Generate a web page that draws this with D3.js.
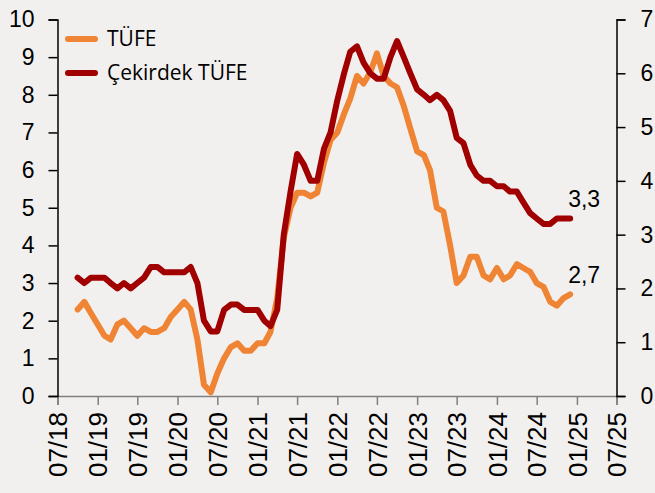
<!DOCTYPE html>
<html>
<head>
<meta charset="utf-8">
<script src="https://cdn.jsdelivr.net/npm/d3@7"></script>
<style>
  html, body { margin: 0; padding: 0; background: #f2f0ef; }
  svg { display: block; }
</style>
</head>
<body>
<svg id="chart" width="655" height="493"></svg>
<script>
// ---- data (monthly, Sep 2018 .. Nov 2024) ----
const startMonth = "2018-09";
const endMonth = "2024-11";
const tufe = [
  2.3, 2.5, 2.2, 1.9,
  1.6, 1.5, 1.9, 2.0, 1.8, 1.6, 1.8, 1.7, 1.7, 1.8, 2.1, 2.3,
  2.5, 2.3, 1.5, 0.3, 0.1, 0.6, 1.0, 1.3, 1.4, 1.2, 1.2, 1.4,
  1.4, 1.7, 2.6, 4.2, 5.0, 5.4, 5.4, 5.3, 5.4, 6.2, 6.8, 7.0,
  7.5, 7.9, 8.5, 8.3, 8.6, 9.1, 8.5, 8.3, 8.2, 7.7, 7.1, 6.5,
  6.4, 6.0, 5.0, 4.9, 4.0, 3.0, 3.2, 3.7, 3.7, 3.2, 3.1, 3.4,
  3.1, 3.2, 3.5, 3.4, 3.3, 3.0, 2.9, 2.5, 2.4, 2.6, 2.7
];
const cekirdek = [
  2.2, 2.1, 2.2, 2.2,
  2.2, 2.1, 2.0, 2.1, 2.0, 2.1, 2.2, 2.4, 2.4, 2.3, 2.3, 2.3,
  2.3, 2.4, 2.1, 1.4, 1.2, 1.2, 1.6, 1.7, 1.7, 1.6, 1.6, 1.6,
  1.4, 1.3, 1.6, 3.0, 3.8, 4.5, 4.3, 4.0, 4.0, 4.6, 4.9, 5.5,
  6.0, 6.4, 6.5, 6.2, 6.0, 5.9, 5.9, 6.3, 6.6, 6.3, 6.0, 5.7,
  5.6, 5.5, 5.6, 5.5, 5.3, 4.8, 4.7, 4.3, 4.1, 4.0, 4.0, 3.9,
  3.9, 3.8, 3.8, 3.6, 3.4, 3.3, 3.2, 3.2, 3.3, 3.3, 3.3
];
const seriesNames = ["TÜFE", "Çekirdek TÜFE"];
const seriesColors = ["#ef8434", "#a00000"];
const xTickLabels = ["07/18","01/19","07/19","01/20","07/20","01/21","07/21","01/22","07/22","01/23","07/23","01/24","07/24","01/25","07/25"];
const leftTicks = [0,1,2,3,4,5,6,7,8,9,10];
const rightTicks = [0,1,2,3,4,5,6,7];
const endLabels = ["2,7", "3,3"];

// ---- setup ----
const svg = d3.select("#chart");
const parseM = d3.timeParse("%Y-%m");
const parseTick = d3.timeParse("%m/%y");
const months = d3.timeMonth.range(parseM(startMonth), d3.timeMonth.offset(parseM(endMonth), 1));
// values are plotted at end of month
const dates = months.map(d => d3.timeMonth.offset(d, 1));
const tickDates = xTickLabels.map(parseTick);

const L = 57.5, R = 616.5, T = 19.5, B = 396;
const x = d3.scaleTime().domain([tickDates[0], tickDates[tickDates.length - 1]]).range([L, R]);
const yL = d3.scaleLinear().domain([0, 10]).range([B, T]);
const yR = d3.scaleLinear().domain([0, 7]).range([B, T]);

// ---- axes ----
const bottomAxis = d3.axisBottom(x).tickValues(tickDates).tickSize(9).tickFormat(d3.timeFormat("%m/%y"));
const gx = svg.append("g").attr("transform", `translate(0,${B})`).call(bottomAxis);
gx.select(".domain").attr("stroke", "#7f7f7f").attr("stroke-width", 1.5);
gx.selectAll(".tick line").attr("stroke", "#7f7f7f").attr("stroke-width", 1.5);
gx.selectAll(".tick text")
  .attr("font-family", "'Liberation Sans', Arial, sans-serif")
  .attr("font-size", 26)
  .attr("fill", "#000")
  .attr("text-anchor", "end")
  .attr("transform", "translate(0,16) rotate(-90)")
  .attr("x", 0).attr("y", 0).attr("dy", "0.35em");

const leftAxis = d3.axisLeft(yL).tickValues(leftTicks).tickSize(9).tickPadding(14).tickFormat(d3.format("d"));
const gl = svg.append("g").attr("transform", `translate(${L},0)`).call(leftAxis);
gl.select(".domain").attr("stroke", "#000").attr("stroke-width", 1.5);
gl.selectAll(".tick line").attr("stroke", "#000").attr("stroke-width", 1.5);
gl.selectAll(".tick text").attr("font-family", "'Liberation Sans', Arial, sans-serif").attr("font-size", 23).attr("fill", "#000");

const rightAxis = d3.axisRight(yR).tickValues(rightTicks).tickSize(9).tickPadding(15).tickFormat(d3.format("d"));
const gr = svg.append("g").attr("transform", `translate(${R},0)`).call(rightAxis);
gr.select(".domain").attr("stroke", "#000").attr("stroke-width", 1.5);
gr.selectAll(".tick line").attr("stroke", "#000").attr("stroke-width", 1.5);
gr.selectAll(".tick text").attr("font-family", "'Liberation Sans', Arial, sans-serif").attr("font-size", 23).attr("fill", "#000");

// ---- lines ----
const lineL = d3.line().x((d, i) => x(dates[i])).y(d => yL(d)).curve(d3.curveLinear);
const lineR = d3.line().x((d, i) => x(dates[i])).y(d => yR(d)).curve(d3.curveLinear);

svg.append("path").datum(tufe).attr("d", lineL)
  .attr("fill", "none").attr("stroke", seriesColors[0]).attr("stroke-width", 6)
  .attr("stroke-linejoin", "round").attr("stroke-linecap", "round");
svg.append("path").datum(cekirdek).attr("d", lineR)
  .attr("fill", "none").attr("stroke", seriesColors[1]).attr("stroke-width", 6)
  .attr("stroke-linejoin", "round").attr("stroke-linecap", "round");

// ---- end labels ----
const last = dates.length - 1;
svg.append("text").attr("x", x(dates[last]) - 2).attr("y", yL(tufe[last]) - 11)
  .attr("font-family", "'Liberation Sans', Arial, sans-serif").attr("font-size", 23).attr("fill", "#000")
  .text(endLabels[0]);
svg.append("text").attr("x", x(dates[last]) - 2).attr("y", yR(cekirdek[last]) - 12)
  .attr("font-family", "'Liberation Sans', Arial, sans-serif").attr("font-size", 23).attr("fill", "#000")
  .text(endLabels[1]);

// ---- legend ----
const legend = svg.append("g");
seriesNames.forEach((name, i) => {
  const cy = 39 + i * 34;
  legend.append("line").attr("x1", 68).attr("x2", 95).attr("y1", cy).attr("y2", cy)
    .attr("stroke", seriesColors[i]).attr("stroke-width", 6).attr("stroke-linecap", "round");
  legend.append("text").attr("x", 107).attr("y", cy).attr("dy", "0.35em")
    .attr("font-family", "'Open Sans', 'DejaVu Sans', sans-serif").attr("font-size", 21).attr("fill", "#000")
    .text(name);
});
</script>
</body>
</html>
